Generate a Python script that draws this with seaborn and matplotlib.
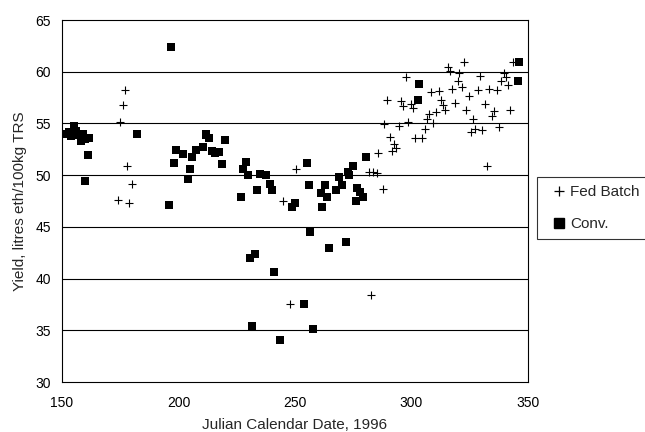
import numpy as np
import pandas as pd
import matplotlib
matplotlib.use("Agg")
import matplotlib.pyplot as plt
import seaborn as sns
from matplotlib.lines import Line2D

# ---- data ----
fed_x = [174.1, 175, 176, 177.1, 178, 178.9, 180, 244.8, 248, 250.6, 281.6, 282.6,
         283.5, 285, 285.6, 287.7, 288.4, 289.4, 290.6, 291.7, 292.7, 293.2, 294.6,
         295.6, 296.5, 297.5, 298.4, 299.9, 300.6, 301.5, 304.3, 305.6, 306.5, 307.6,
         308.4, 309.4, 310.6, 311.7, 312.7, 313.4, 314.3, 315.6, 316.4, 317.4, 318.5,
         319.8, 320.6, 321.5, 322.4, 323.4, 324.6, 325.6, 326.6, 327.2, 328.4, 329.4,
         330.3, 331.5, 332.5, 333.1, 334.6, 335.6, 336.5, 337.4, 338.4, 339.9, 340.5,
         341.3, 342.3, 343.4]
fed_y = [47.6, 55.1, 56.8, 58.2, 50.9, 47.3, 49.1, 47.5, 37.5, 50.6, 50.3, 38.4,
         50.3, 50.2, 52.1, 48.7, 54.9, 57.3, 53.7, 52.3, 53.0, 52.6, 54.8,
         57.2, 56.7, 59.5, 55.1, 56.9, 56.5, 53.6, 53.6, 54.5, 55.4, 55.9,
         58.0, 55.0, 56.1, 58.1, 57.3, 56.8, 56.3, 60.5, 60.1, 58.3, 57.0,
         59.1, 59.9, 58.5, 60.9, 56.3, 57.7, 54.2, 55.4, 54.5, 58.2, 59.6,
         54.4, 56.9, 50.9, 58.3, 55.7, 56.2, 58.2, 54.7, 59.1, 59.9, 59.5,
         58.7, 56.3, 60.9]

conv_x = [152, 153, 154, 155, 156, 157, 158, 159, 160, 161.5, 161, 160, 182, 197, 196,
          199, 198, 202, 204.9, 204, 206, 207.7, 210.6, 211.6, 213, 212, 214.2, 215.6,
          217.5, 218.7, 220, 227, 227.7, 229, 230, 230.6, 232.7, 231.7, 233.7, 235,
          237.7, 239.2, 240, 241, 243.4, 248.7, 249.9, 253.7, 255, 256, 256.6, 257.7,
          261, 261.7, 262.7, 263.7, 264.6, 267.7, 269.1, 270, 271.7, 272.7, 273.1,
          275, 276, 276.7, 277.7, 279.4, 280.6, 302.7, 303.4, 345.6, 346.3]
conv_y = [54.0, 54.2, 53.8, 54.8, 54.3, 53.9, 53.3, 54.0, 53.5, 53.6, 51.9, 49.4, 54.0, 62.4, 47.1,
          52.4, 51.2, 52.0, 50.6, 49.6, 51.8, 52.4, 52.7, 53.9, 53.6, 54.0, 52.3, 52.1,
          52.2, 51.1, 53.4, 47.9, 50.6, 51.3, 50.0, 42.0, 42.4, 35.4, 48.6, 50.1,
          50.0, 49.1, 48.6, 40.6, 34.1, 46.9, 47.3, 37.5, 51.2, 49.0, 44.5, 35.1,
          48.3, 46.9, 49.0, 47.9, 43.0, 48.6, 49.8, 49.0, 43.5, 50.3, 50.0,
          50.9, 47.5, 48.8, 48.4, 47.9, 51.8, 57.3, 58.8, 59.1, 60.9]

x_ticks = [150, 200, 250, 300, 350]
y_ticks = [30, 35, 40, 45, 50, 55, 60, 65]
series_names = ["Fed Batch", "Conv."]

sns.set_style("white")
plt.rcParams['font.family'] = ['Liberation Sans', 'DejaVu Sans']

fed = pd.DataFrame({"x": fed_x, "y": fed_y})
conv = pd.DataFrame({"x": conv_x, "y": conv_y})

fig = plt.figure(figsize=(6.45, 4.32), dpi=100)
ax = fig.add_axes([0.0961, 0.1157, 0.7225, 0.838])

for yv in y_ticks[1:-1]:
    ax.axhline(yv, color='black', lw=0.8, zorder=0)

sns.scatterplot(data=fed, x="x", y="y", ax=ax, marker='+', s=40, color='black',
                linewidth=0.8, zorder=3)
sns.scatterplot(data=conv, x="x", y="y", ax=ax, marker='s', s=36, color='black',
                edgecolor='black', linewidth=0, zorder=4)

ax.set_xlim(150, 350)
ax.set_ylim(30, 65)
ax.set_xticks(x_ticks)
ax.set_yticks(y_ticks)
ax.tick_params(axis='both', direction='out', length=3, width=0.8, labelsize=10,
               colors='black')
ax.tick_params(axis='x', pad=7)
ax.tick_params(axis='y', pad=5)
for sp in ax.spines.values():
    sp.set_visible(True)
    sp.set_color('black')
    sp.set_linewidth(0.8)
ax.set_xlabel("Julian Calendar Date, 1996", fontsize=11, labelpad=6)
ax.set_ylabel("Yield, litres eth/100kg TRS", fontsize=11, labelpad=6)

handles = [Line2D([], [], marker='+', color='black', linestyle='none', markersize=7, mew=0.9),
           Line2D([], [], marker='s', color='black', linestyle='none', markersize=7)]
leg = fig.legend(handles, series_names, loc='upper left',
                 bbox_to_anchor=(537 / 645, 1 - 177 / 432), frameon=True,
                 fancybox=False, edgecolor='black', fontsize=11, handlelength=1.8,
                 handletextpad=-0.2, labelspacing=1.15, borderpad=0.55, borderaxespad=0)
leg.get_frame().set_linewidth(0.8)

fig.savefig("out.png", dpi=100)
